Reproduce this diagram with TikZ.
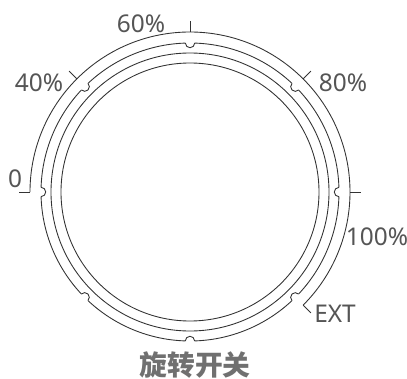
\documentclass[tikz,border=0pt]{standalone}
\usepackage{fontspec}
\setmainfont{Noto Sans}
\newfontfamily\cjk{Noto Sans CJK SC}
\definecolor{ringgray}{HTML}{333333}
\definecolor{labelgray}{HTML}{555555}
\definecolor{titlegray}{HTML}{707070}
\tikzset{
  ring/.style={draw=ringgray, line width=0.5pt},
  scalelabel/.style={text=labelgray, font=\fontsize{13.9}{14}\selectfont, inner sep=0pt},
  titlelabel/.style={text=titlegray, font=\cjk\bfseries\fontsize{15.8}{16}\selectfont, inner sep=0pt}
}
\begin{document}
\begin{tikzpicture}
\useasboundingbox (-3.8,-3.72) rectangle (4.34,3.84);
\coordinate (center) at (0,0);
% anelli interni
\draw[ring] (center) circle (2.78);
\draw[ring] (center) circle (2.58);
% anello con le tacche
\foreach \ang in {0,45,...,315} {
  \draw[ring] (\ang+1.8:2.98) arc (\ang+1.8:\ang+43.2:2.98);
  \draw[ring] (\ang-1.8:2.98) arc (\ang-90:\ang-270:0.093);
}
% scala esterna
\draw[ring] (180:3.2) arc (180:-45:3.2);
\foreach \ang/\tickname in {180/tzero,135/tforty,90/tsixty,45/teighty,0/thundred,-45/text} {
  \coordinate (\tickname a) at (\ang:3.2);
  \coordinate (\tickname b) at (\ang:3.42);
  \draw[ring] (\tickname a) -- (\tickname b);
}
% etichette
\node[scalelabel] (lzero) at (-3.5,0.26) {0};
\node[scalelabel] (lforty) at (-3.02,2.18) {40\%};
\node[scalelabel] (lsixty) at (-0.98,3.36) {60\%};
\node[scalelabel] (leighty) at (3.06,2.18) {80\%};
\node[scalelabel] (lhundred) at (3.74,-0.9) {100\%};
\node[scalelabel] (lext) at (2.9,-2.44) {EXT};
\node[titlelabel] (ltitle) at (0.1,-3.46) {旋转开关};
\end{tikzpicture}
\end{document}
